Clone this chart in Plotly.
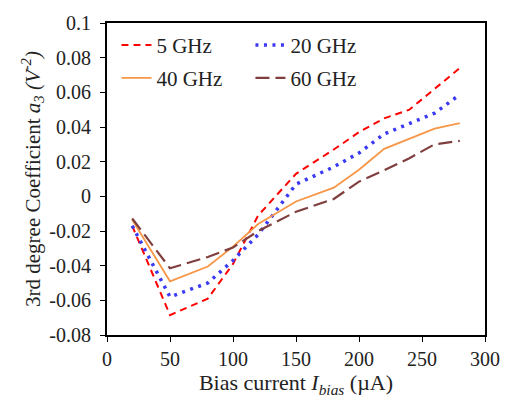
import plotly.graph_objects as go

bias = [20, 50, 80, 100, 120, 150, 180, 200, 220, 240, 260, 280]
a3_5ghz = [-0.017, -0.0685, -0.059, -0.039, -0.011, 0.013, 0.027, 0.037, 0.045, 0.050, 0.062, 0.074]
a3_20ghz = [-0.017, -0.058, -0.050, -0.037, -0.022, 0.007, 0.017, 0.025, 0.036, 0.042, 0.048, 0.0587]
a3_40ghz = [-0.0135, -0.049, -0.0405, -0.029, -0.016, -0.003, 0.005, 0.0153, 0.0274, 0.033, 0.039, 0.0423]
a3_60ghz = [-0.0128, -0.0415, -0.035, -0.0295, -0.020, -0.0089, -0.0015, 0.0085, 0.015, 0.022, 0.030, 0.032]

y_ticks = [0.1, 0.08, 0.06, 0.04, 0.02, 0, -0.02, -0.04, -0.06, -0.08]
y_tick_text = ["0.1", "0.08", "0.06", "0.04", "0.02", "0", "-0.02", "-0.04", "-0.06", "-0.08"]
x_ticks = [0, 50, 100, 150, 200, 250, 300]

font = "Liberation Serif"
txt = "#222222"

fig = go.Figure()
fig.add_trace(go.Scatter(x=bias, y=a3_5ghz, mode="lines", name="5 GHz",
                         line=dict(color="#FF0000", width=2, dash="7px,5px"), legend="legend"))
fig.add_trace(go.Scatter(x=bias, y=a3_20ghz, mode="lines", name="20 GHz",
                         line=dict(color="#3A3AF5", width=3.5, dash="3px,5.5px"), legend="legend"))
fig.add_trace(go.Scatter(x=bias, y=a3_40ghz, mode="lines", name="40 GHz",
                         line=dict(color="#F79646", width=1.8), legend="legend2"))
fig.add_trace(go.Scatter(x=bias, y=a3_60ghz, mode="lines", name="60 GHz",
                         line=dict(color="#7F3F3F", width=2.2, dash="14px,6px"), legend="legend2"))

leg_common = dict(orientation="h", entrywidth=89, entrywidthmode="pixels",
                  font=dict(family=font, size=21, color=txt),
                  bgcolor="rgba(0,0,0,0)", xanchor="left", yanchor="middle",
                  tracegroupgap=0, itemwidth=30)

fig.update_layout(
    width=512, height=412,
    margin=dict(l=107, r=16, t=13, b=77),
    paper_bgcolor="white", plot_bgcolor="white",
    font=dict(family=font, size=20, color=txt),
    showlegend=True,
    legend=dict(x=0.025, y=0.928, **leg_common),
    legend2=dict(x=0.025, y=0.823, **leg_common),
    xaxis=dict(range=[0, 300], tickvals=x_ticks, showgrid=False, zeroline=False,
               showline=True, linecolor="black", linewidth=2, mirror=True,
               ticks="outside", ticklen=5, tickcolor="black", tickwidth=1,
               tickfont=dict(family=font, size=20, color=txt),
               title=dict(text="Bias current <i>I</i><sub><i>bias</i></sub> (µA)",
                          font=dict(family=font, size=22, color=txt), standoff=6)),
    yaxis=dict(range=[-0.08, 0.1], tickvals=y_ticks, ticktext=y_tick_text,
               showgrid=False, zeroline=False,
               showline=True, linecolor="black", linewidth=2, mirror=True,
               ticks="outside", ticklen=5, tickcolor="black", tickwidth=1,
               ticklabelstandoff=5,
               tickfont=dict(family=font, size=20, color=txt),
               title=dict(text="3rd degree Coefficient <i>a</i><sub><i>3</i></sub> <i>(V</i><sup><i>-2</i></sup><i>)</i>",
                          font=dict(family=font, size=21, color=txt), standoff=3)),
)

fig.write_html("out.html")
